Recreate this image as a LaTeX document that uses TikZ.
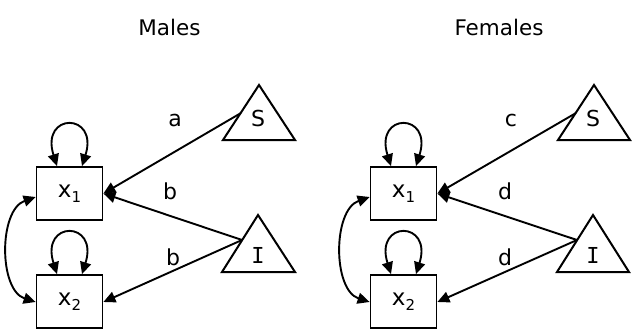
\documentclass[tikz,border=0pt]{standalone}
\usepackage{fontspec}
\setmainfont{DejaVu Sans}
\newfontfamily\serifI{DejaVu Sans Mono}
\usetikzlibrary{arrows.meta}
\newcommand{\vsub}[2]{#1\raisebox{-5pt}{\fontsize{15}{15}\selectfont #2}}
\begin{document}
\begin{tikzpicture}[x=1pt,y=-1pt,
  txt/.style={font=\fontsize{22}{26}\selectfont, inner sep=0pt},
  ttl/.style={font=\fontsize{21.5}{25}\selectfont, inner sep=0pt},
  varbox/.style={draw, line width=1.8pt, minimum width=66pt, minimum height=53pt, inner sep=0pt, font=\fontsize{23}{26}\selectfont},
  tri/.style={draw, line width=2pt, line join=miter},
  conn/.style={line width=1.9pt, -{Triangle[length=12pt,width=11pt]}},
  dconn/.style={line width=1.9pt, {Triangle[length=12pt,width=11pt]}-{Triangle[length=12pt,width=11pt]}}
]
\useasboundingbox (0,0) rectangle (632,329);
\clip (0,0) rectangle (632,329);

% ---------- Males ----------
\node[ttl] (tm) at (169.5,27) {Males};
\node[varbox] (mx1) at (69.5,193.5) {\vsub{x}{1}};
\node[varbox] (mx2) at (69.5,301.5) {\vsub{x}{2}};
\draw[tri] (259,85) -- (223,140) -- (295,140) -- cycle;
\draw[tri] (258,215) -- (222,272) -- (295,272) -- cycle;
\node[txt] (mS) at (258,118) {S};
\node[txt, font=\fontsize{22}{26}\serifI] (mI) at (258,255) {I};
\coordinate (mSo) at (241,113);
\coordinate (mIo) at (242,240);
\draw[conn] (mSo) -- (mx1.east);
\draw[conn] (mIo) -- (mx1.east);
\draw[conn] (mIo) -- ([yshift=-0.5pt]mx2.east);
\node[txt] (la) at (175,120) {a};
\node[txt] (lb1) at (170,191) {b};
\node[txt] (lb2) at (173,257) {b};
\draw[dconn] ([xshift=-12.5pt]mx1.north) .. controls +(-17,-54) and +(17,-54) .. ([xshift=12.5pt]mx1.north);
\draw[dconn] ([xshift=-12.5pt]mx2.north) .. controls +(-17,-54) and +(17,-54) .. ([xshift=12.5pt]mx2.north);
\draw[dconn] ([yshift=-3.5pt]mx1.west) .. controls +(-37,13) and +(-37,-12) .. ([yshift=-0.5pt]mx2.west);

% ---------- Females ----------
\node[ttl] (tf) at (499,27) {Females};
\node[varbox] (fx1) at (403.5,193.5) {\vsub{x}{1}};
\node[varbox] (fx2) at (403.5,301.5) {\vsub{x}{2}};
\draw[tri] (594,85) -- (558,140) -- (630,140) -- cycle;
\draw[tri] (593,215) -- (557,272) -- (629,272) -- cycle;
\node[txt] (fS) at (593,118) {S};
\node[txt, font=\fontsize{22}{26}\serifI] (fI) at (593,255) {I};
\coordinate (fSo) at (576,113);
\coordinate (fIo) at (577,240);
\draw[conn] (fSo) -- (fx1.east);
\draw[conn] (fIo) -- (fx1.east);
\draw[conn] (fIo) -- ([yshift=-0.5pt]fx2.east);
\node[txt] (lc) at (511,120) {c};
\node[txt] (ld1) at (505,191) {d};
\node[txt] (ld2) at (505,257) {d};
\draw[dconn] ([xshift=-12.5pt]fx1.north) .. controls +(-17,-54) and +(17,-54) .. ([xshift=12.5pt]fx1.north);
\draw[dconn] ([xshift=-12.5pt]fx2.north) .. controls +(-17,-54) and +(17,-54) .. ([xshift=12.5pt]fx2.north);
\draw[dconn] ([yshift=-3.5pt]fx1.west) .. controls +(-37,13) and +(-37,-12) .. ([yshift=-0.5pt]fx2.west);
\end{tikzpicture}
\end{document}
